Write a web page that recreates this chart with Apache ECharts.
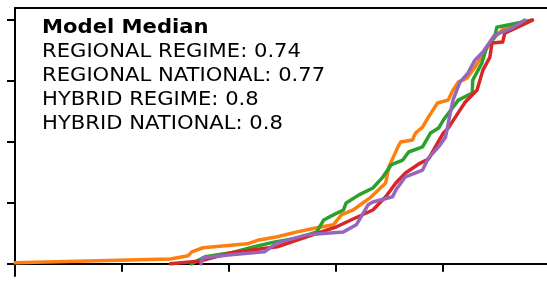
<!DOCTYPE html>
<html>
<head>
<meta charset="utf-8">
<script src="https://cdn.jsdelivr.net/npm/echarts@6/dist/echarts.min.js"></script>
<style>
  html, body { margin: 0; padding: 0; background: #fff; }
  #chart { width: 547px; height: 282px; }
</style>
</head>
<body>
<div id="chart"></div>
<script>
// tick positions (labels are cut off in the reference)
const xTicks = [0, 0.2, 0.4, 0.6, 0.8];
const yTicks = [0, 0.25, 0.5, 0.75, 1];

const medianTitle = 'Model Median';
const medianLines = [
  'REGIONAL REGIME: 0.74',
  'REGIONAL NATIONAL: 0.77',
  'HYBRID REGIME: 0.8',
  'HYBRID NATIONAL: 0.8'
];

// cumulative curves, [x, y]
const regionalRegime = [
  [0, 0.004], [0.291, 0.02], [0.324, 0.033], [0.331, 0.049], [0.352, 0.066],
  [0.435, 0.082], [0.457, 0.098], [0.491, 0.111], [0.528, 0.131], [0.565, 0.148],
  [0.596, 0.16], [0.611, 0.201], [0.633, 0.221], [0.667, 0.275], [0.694, 0.332],
  [0.7, 0.398], [0.717, 0.48], [0.722, 0.5], [0.744, 0.508], [0.75, 0.537],
  [0.763, 0.561], [0.774, 0.602], [0.791, 0.66], [0.811, 0.672], [0.82, 0.713],
  [0.83, 0.746], [0.846, 0.762], [0.861, 0.807], [0.893, 0.918], [0.917, 0.971],
  [0.967, 1.0]
];
const regionalNational = [
  [0.33, 0.0], [0.356, 0.029], [0.404, 0.045], [0.448, 0.07], [0.487, 0.09],
  [0.533, 0.107], [0.565, 0.131], [0.578, 0.18], [0.596, 0.201], [0.615, 0.221],
  [0.62, 0.25], [0.644, 0.283], [0.67, 0.311], [0.689, 0.357], [0.704, 0.406],
  [0.726, 0.426], [0.737, 0.459], [0.763, 0.48], [0.778, 0.537], [0.793, 0.557],
  [0.802, 0.59], [0.83, 0.672], [0.856, 0.701], [0.857, 0.754], [0.874, 0.824],
  [0.883, 0.889], [0.898, 0.93], [0.902, 0.971], [0.967, 1.0]
];
const hybridRegime = [
  [0.291, 0.0], [0.348, 0.012], [0.404, 0.045], [0.491, 0.07], [0.546, 0.111],
  [0.602, 0.152], [0.633, 0.184], [0.67, 0.221], [0.694, 0.275], [0.713, 0.332],
  [0.731, 0.373], [0.756, 0.41], [0.774, 0.43], [0.787, 0.48], [0.802, 0.537],
  [0.811, 0.557], [0.833, 0.631], [0.843, 0.664], [0.865, 0.713], [0.876, 0.795],
  [0.889, 0.848], [0.893, 0.906], [0.913, 0.91], [0.917, 0.947], [0.969, 1.0]
];
const hybridNational = [
  [0.348, 0.0], [0.352, 0.025], [0.404, 0.037], [0.467, 0.049], [0.491, 0.086],
  [0.546, 0.119], [0.615, 0.131], [0.639, 0.16], [0.661, 0.242], [0.67, 0.254],
  [0.707, 0.275], [0.713, 0.303], [0.731, 0.357], [0.763, 0.385], [0.774, 0.434],
  [0.793, 0.48], [0.806, 0.52], [0.815, 0.619], [0.82, 0.672], [0.833, 0.746],
  [0.848, 0.783], [0.861, 0.836], [0.876, 0.869], [0.889, 0.91], [0.898, 0.939],
  [0.93, 0.967], [0.954, 1.0]
];

const seriesList = [
  { name: 'REGIONAL REGIME', color: '#ff7f0e', data: regionalRegime },
  { name: 'REGIONAL NATIONAL', color: '#2ca02c', data: regionalNational },
  { name: 'HYBRID REGIME', color: '#d62728', data: hybridRegime },
  { name: 'HYBRID NATIONAL', color: '#9467bd', data: hybridNational }
];

const font = '"DejaVu Sans", sans-serif';
const spine = { color: '#000', width: 2 };

const chart = echarts.init(document.getElementById('chart'));
chart.setOption({
  animation: false,
  backgroundColor: '#fff',
  grid: { left: 15, top: 8, right: -6, bottom: 6 },
  xAxis: [{
    type: 'value',
    min: 0,
    max: 0.996,
    splitLine: { show: false },
    axisLine: { lineStyle: spine },
    axisTick: { customValues: xTicks, length: 8, lineStyle: spine },
    axisLabel: { show: false }
  }, {
    // top spine only
    type: 'value',
    position: 'top',
    min: 0,
    max: 0.996,
    splitLine: { show: false },
    axisLine: { lineStyle: spine },
    axisTick: { show: false },
    axisLabel: { show: false }
  }],
  yAxis: {
    type: 'value',
    min: -0.05,
    max: 1.05,
    splitLine: { show: false },
    axisLine: { show: true, lineStyle: spine },
    axisTick: { customValues: yTicks, length: 8, lineStyle: spine },
    axisLabel: { show: false }
  },
  graphic: [{
    type: 'text',
    x: 42,
    y: 16,
    scaleX: 1.056,
    z: 100,
    style: {
      text: '{b|' + medianTitle + '}\n' + medianLines.join('\n'),
      fontSize: 20,
      fontFamily: font,
      fill: '#000',
      lineHeight: 24,
      rich: {
        b: { fontWeight: 'bold', fontSize: 20, fontFamily: font, lineHeight: 24 }
      }
    }
  }],
  series: seriesList.map(s => ({
    name: s.name,
    type: 'line',
    xAxisIndex: 0,
    data: s.data,
    showSymbol: false,
    symbol: 'none',
    lineStyle: { color: s.color, width: 3.5, cap: 'round', join: 'round' },
    itemStyle: { color: s.color }
  }))
});
</script>
</body>
</html>
